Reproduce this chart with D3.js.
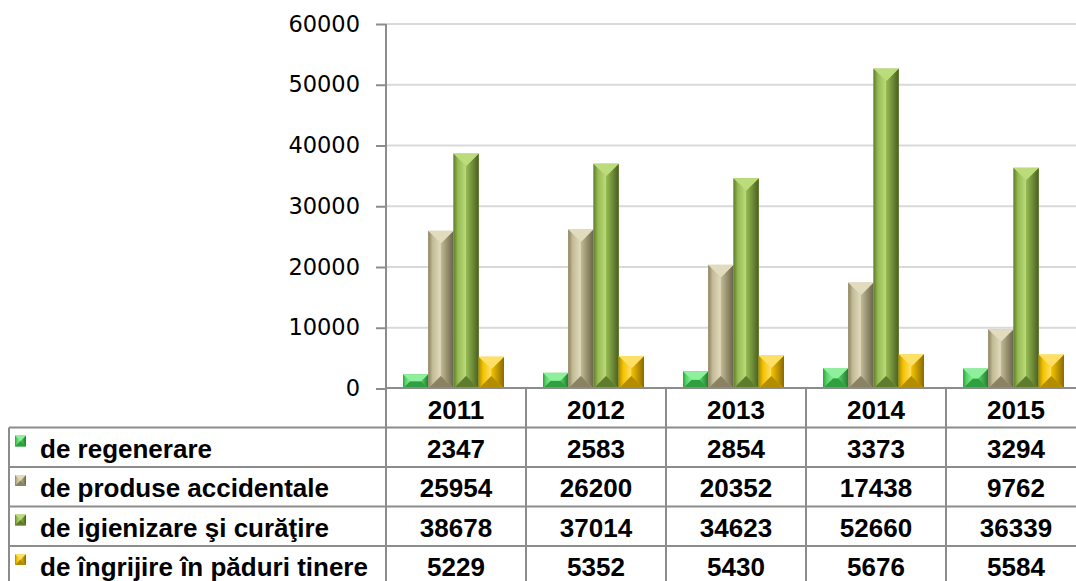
<!DOCTYPE html>
<html>
<head>
<meta charset="utf-8">
<script src="https://cdn.jsdelivr.net/npm/d3@7"></script>
<style>
  body { margin: 0; background: #fff; }
  svg { display: block; }
</style>
</head>
<body>
<svg id="canvas"></svg>
<script>
// data
const years = ["2011", "2012", "2013", "2014", "2015"];
const seriesNames = ["de regenerare", "de produse accidentale", "de igienizare şi curăţire", "de îngrijire în păduri tinere"];
const regenerare = [2347, 2583, 2854, 3373, 3294];
const accidentale = [25954, 26200, 20352, 17438, 9762];
const igienizare = [38678, 37014, 34623, 52660, 36339];
const ingrijire = [5229, 5352, 5430, 5676, 5584];
const yTicks = [0, 10000, 20000, 30000, 40000, 50000, 60000];

const seriesValues = [regenerare, accidentale, igienizare, ingrijire];
// light, base, dark, darker
const palette = [
  ["#8ef09c", "#55d266", "#2f9f40", "#237a30"],
  ["#e2dcbf", "#c3bb95", "#8a8262", "#6a6449"],
  ["#bcdc7c", "#97ba52", "#5e7c2c", "#485f20"],
  ["#ffe066", "#f4c300", "#b48c00", "#8a6a00"]
];

const W = 1076, H = 581;
const svg = d3.select("#canvas").attr("width", W).attr("height", H);
const defs = svg.append("defs");

// side gradients for the beveled look
palette.forEach((c, i) => {
  const gl = defs.append("linearGradient").attr("id", "gl" + i).attr("x1", 0).attr("x2", 1).attr("y1", 0).attr("y2", 0);
  gl.append("stop").attr("offset", "0%").attr("stop-color", c[2]);
  gl.append("stop").attr("offset", "35%").attr("stop-color", c[1]);
  gl.append("stop").attr("offset", "100%").attr("stop-color", c[0]);
  const gr = defs.append("linearGradient").attr("id", "gr" + i).attr("x1", 0).attr("x2", 1).attr("y1", 0).attr("y2", 0);
  gr.append("stop").attr("offset", "0%").attr("stop-color", c[1]);
  gr.append("stop").attr("offset", "100%").attr("stop-color", c[3]);
});

const plotLeft = 386, bandW = 140;
const x = d3.scaleBand().domain(years).range([plotLeft, plotLeft + bandW * years.length]);
const xInner = d3.scaleBand().domain(d3.range(seriesNames.length)).range([17, 118]);
const y = d3.scaleLinear().domain([0, 60000]).range([388.5, 24]);

// gridlines
svg.append("g").selectAll("line").data(yTicks.slice(1)).enter().append("line")
  .attr("x1", plotLeft).attr("x2", W)
  .attr("y1", d => y(d)).attr("y2", d => y(d))
  .attr("stroke", "#d9d9d9").attr("stroke-width", 2);

// y axis
const yAxis = svg.append("g").attr("transform", `translate(${plotLeft},0)`)
  .call(d3.axisLeft(y).tickValues(yTicks).tickSize(10).tickPadding(16).tickFormat(d3.format("d")));
yAxis.select(".domain").remove();
yAxis.selectAll(".tick line").attr("stroke", "#8c8c8c").attr("stroke-width", 2);
yAxis.selectAll(".tick text").attr("fill", "#000")
  .style("font-family", "'DejaVu Sans', sans-serif").style("font-size", "22.5px");

function bevel(g, bx, by, w, h, ci, maxD) {
  const c = palette[ci];
  const d = Math.min(w / 2, h / 2, maxD);
  const pts = (arr) => arr.map(p => p.join(",")).join(" ");
  const x0 = bx, x1 = bx + w, y0 = by, y1 = by + h;
  g.append("rect").attr("x", x0).attr("y", y0).attr("width", w).attr("height", h).attr("fill", c[1]);
  g.append("polygon").attr("points", pts([[x0, y0], [x0 + d, y0 + d], [x0 + d, y1 - d], [x0, y1]])).attr("fill", `url(#gl${ci})`);
  g.append("polygon").attr("points", pts([[x1, y0], [x1 - d, y0 + d], [x1 - d, y1 - d], [x1, y1]])).attr("fill", `url(#gr${ci})`);
  g.append("polygon").attr("points", pts([[x0, y1], [x0 + d, y1 - d], [x1 - d, y1 - d], [x1, y1]])).attr("fill", c[2]);
  g.append("polygon").attr("points", pts([[x0, y0], [x1, y0], [x1 - d, y0 + d], [x0 + d, y0 + d]])).attr("fill", c[0]);
}

// bars
const barsG = svg.append("g");
years.forEach((yr, j) => {
  seriesValues.forEach((vals, i) => {
    const v = vals[j];
    const bx = x(yr) + xInner(i);
    const by = y(v);
    bevel(barsG, bx, by, xInner.bandwidth(), y(0) - by, i, 12.6);
  });
});

// data table
const rowTop = 388, rowH = 39.5, tableLeft = 9;
const nRows = seriesNames.length;
const grid = svg.append("g").attr("stroke", "#8c8c8c").attr("stroke-width", 2);
// horizontal lines
grid.append("line").attr("x1", plotLeft).attr("x2", W).attr("y1", rowTop).attr("y2", rowTop);
d3.range(1, nRows + 2).forEach(k => {
  grid.append("line").attr("x1", tableLeft).attr("x2", W)
    .attr("y1", rowTop + k * rowH).attr("y2", rowTop + k * rowH);
});
// vertical lines
grid.append("line").attr("x1", plotLeft).attr("x2", plotLeft).attr("y1", 24).attr("y2", H);
grid.append("line").attr("x1", tableLeft).attr("x2", tableLeft).attr("y1", rowTop + rowH).attr("y2", H);
years.forEach(yr => {
  grid.append("line").attr("x1", x(yr) + bandW).attr("x2", x(yr) + bandW).attr("y1", rowTop).attr("y2", H);
});

const textStyle = sel => sel.attr("font-family", "'Liberation Sans', Arial, sans-serif")
  .attr("font-weight", "bold").attr("font-size", 26).attr("fill", "#000");

// header row
svg.append("g").selectAll("text").data(years).enter().append("text")
  .attr("x", d => x(d) + bandW / 2).attr("y", rowTop + 31)
  .attr("text-anchor", "middle").text(d => d).call(textStyle);

// series rows
seriesNames.forEach((name, i) => {
  const ry = rowTop + (i + 1) * rowH;
  const rg = svg.append("g");
  bevel(rg, 15, ry + 8, 11, 11, i, 5.5);
  rg.append("text").attr("x", 40).attr("y", ry + 30).text(name).call(textStyle);
  rg.selectAll("text.v").data(seriesValues[i]).enter().append("text").attr("class", "v")
    .attr("x", (d, j) => x(years[j]) + bandW / 2).attr("y", ry + 30)
    .attr("text-anchor", "middle").text(d => d).call(textStyle);
});
</script>
</body>
</html>
